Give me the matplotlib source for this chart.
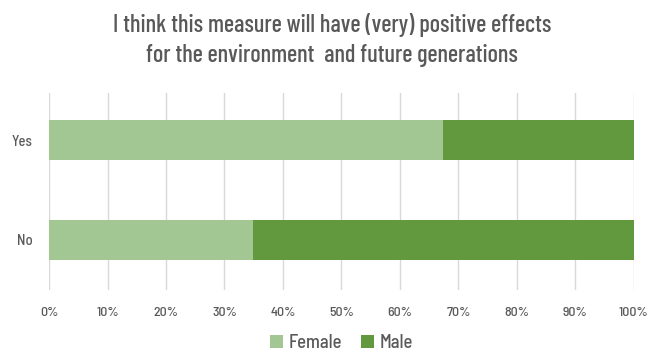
import matplotlib
matplotlib.use("Agg")
import matplotlib.pyplot as plt
import numpy as np

categories = ["No", "Yes"]
female = [34.9, 67.4]
male = [65.1, 32.6]
ticks = list(range(0, 101, 10))

plt.rcParams["font.family"] = ["Barlow Semi Condensed", "DejaVu Sans"]
plt.rcParams["font.weight"] = "medium"

TEXT = "#595959"
LIGHT = "#A3C793"
DARK = "#62993E"

fig = plt.figure(figsize=(6.64, 3.54), dpi=100)
ax = fig.add_axes([0.0738, 0.181, 0.881, 0.556])

y = np.arange(len(categories))
ax.barh(y, female, height=0.4, color=LIGHT, label="Female", zorder=3)
ax.barh(y, male, left=female, height=0.4, color=DARK, label="Male", zorder=3)

ax.set_xlim(0, 100)
ax.set_ylim(-0.5, 1.47)
ax.set_yticks(y)
ax.set_yticklabels(categories, fontsize=10.5, color=TEXT)
ax.set_xticks(ticks)
ax.set_xticklabels([f"{t}%" for t in ticks], fontsize=10, color=TEXT)
ax.tick_params(axis="y", length=0, pad=12)
ax.tick_params(axis="x", length=0, pad=12)
ax.grid(axis="x", color="#D9D9D9", linewidth=1, zorder=0)
for s in ax.spines.values():
    s.set_visible(False)

fig.text(0.5, 0.887, "I think this measure will have (very) positive effects\nfor the environment  and future generations",
         ha="center", va="center", fontsize=17.5, color=TEXT, linespacing=1.38,
         family=["Barlow Condensed", "DejaVu Sans"], fontweight="medium")

ax.legend(loc="center", bbox_to_anchor=(0.5, -0.27), ncol=2, frameon=False,
          fontsize=13.5, labelcolor=TEXT, handlelength=0.7, handleheight=0.7,
          handletextpad=0.3, columnspacing=1.0)

fig.savefig("out.png", dpi=100)
